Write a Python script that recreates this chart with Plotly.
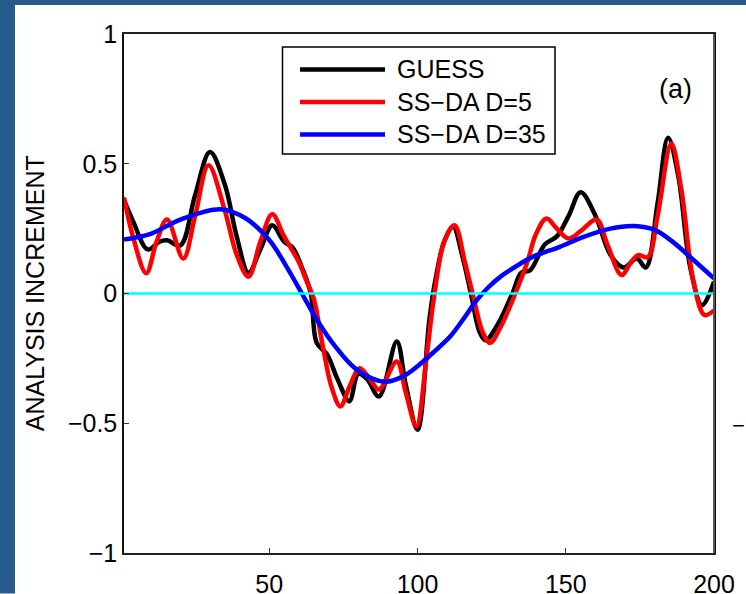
import plotly.graph_objects as go

# ---- data ----
guess_x = [1, 4, 9, 13, 15.5, 20, 25, 30, 35, 39, 43, 47, 51, 55, 58, 61, 64, 66, 69.5, 73, 77,
           80, 83, 87, 93, 96, 100, 104, 106, 109, 112, 115, 118, 121, 123, 127, 132, 135, 138,
           143, 147, 151, 155, 160, 165, 169.5, 174, 177, 181, 184.5, 188, 192, 196, 200]
guess_y = [0.36, 0.28, 0.17, 0.20, 0.205, 0.185, 0.38, 0.545, 0.42, 0.22, 0.08, 0.17, 0.263, 0.20,
           0.175, 0.10, 0.0, -0.19, -0.235, -0.33, -0.415, -0.31, -0.33, -0.397, -0.185, -0.35,
           -0.525, -0.10, 0.05, 0.20, 0.257, 0.15, 0.0, -0.15, -0.18, -0.12, 0.0, 0.08, 0.09,
           0.19, 0.22, 0.30, 0.39, 0.30, 0.15, 0.10, 0.135, 0.10, 0.35, 0.60, 0.45, 0.10, -0.045, 0.045]

d5_x = [1, 4, 8.5, 12, 15.5, 21, 25, 29.5, 35, 39, 43, 47, 51, 55, 60, 62.5, 65, 68, 71, 74, 77,
        80.5, 84, 87, 93, 96, 99.6, 103, 105.5, 109, 112.5, 116, 119, 122, 124.5, 128, 133, 137,
        140, 143.5, 147, 151, 155, 160.4, 164, 168.8, 172, 174.4, 177.7, 181, 185.6, 189, 193,
        196.8, 200]
d5_y = [0.37, 0.22, 0.078, 0.20, 0.285, 0.135, 0.30, 0.494, 0.32, 0.15, 0.065, 0.20, 0.305, 0.22,
        0.12, 0.05, -0.02, -0.20, -0.36, -0.435, -0.36, -0.288, -0.33, -0.37, -0.262, -0.38,
        -0.512, -0.25, -0.02, 0.20, 0.263, 0.12, -0.02, -0.15, -0.19, -0.13, 0.0, 0.12, 0.23,
        0.289, 0.25, 0.212, 0.24, 0.285, 0.19, 0.071, 0.12, 0.148, 0.14, 0.30, 0.578, 0.40, 0.05,
        -0.083, -0.065]

d35_x = [1, 10, 20, 33.6, 42, 50, 56, 61, 66, 72, 79.6, 89, 95, 100, 106, 111, 116, 120, 124,
         128, 133, 139, 148, 156, 165, 173, 180, 186, 193, 200]
d35_y = [0.208, 0.23, 0.285, 0.325, 0.29, 0.206, 0.10, 0.0, -0.10, -0.20, -0.294, -0.34, -0.32,
         -0.28, -0.22, -0.166, -0.09, -0.025, 0.025, 0.065, 0.103, 0.142, 0.18, 0.218, 0.25, 0.26,
         0.245, 0.20, 0.13, 0.058]

x_range = [1, 200]
zero_y = [0, 0]

x_ticks = [50, 100, 150, 200]
y_ticks = [-1, -0.5, 0, 0.5, 1]
y_ticktext = ["\u22121", "\u22120.5", "0", "0.5", "1"]

series_names = ["GUESS", "SS\u2212DA D=5", "SS\u2212DA D=35"]
series_colors = ["#000000", "#ff0000", "#0000ff"]

# ---- figure geometry ----
W, H = 746, 594
ML, MR, MT, MB = 124, 32, 34, 40.5
PW, PH = W - ML - MR, H - MT - MB
FONT = "Liberation Sans, Arial, Helvetica, sans-serif"


def px_x(p):
    return (p - ML) / PW


def px_y(p):
    return (H - MB - p) / PH


fig = go.Figure()
for xs, ys, name, col in zip([guess_x, d5_x, d35_x], [guess_y, d5_y, d35_y], series_names, series_colors):
    fig.add_trace(go.Scatter(x=xs, y=ys, mode="lines", name=name,
                             line=dict(color=col, width=4.5, shape="spline", smoothing=1.0),
                             showlegend=False))

fig.add_trace(go.Scatter(x=x_range, y=zero_y, mode="lines", line=dict(color="#00ffff", width=2.5),
                         showlegend=False, hoverinfo="skip"))

shapes = []
# blue frame strips
frame = "#275b8e"
shapes.append(dict(type="rect", xref="paper", yref="paper", x0=px_x(0), x1=px_x(15),
                   y0=px_y(H), y1=px_y(0), fillcolor=frame, line=dict(width=0), layer="below"))
shapes.append(dict(type="rect", xref="paper", yref="paper", x0=px_x(0), x1=px_x(W),
                   y0=px_y(5), y1=px_y(0), fillcolor=frame, line=dict(width=0), layer="below"))
# right axis line (grey)
shapes.append(dict(type="line", xref="paper", yref="paper", x0=1, x1=1, y0=0, y1=1,
                   line=dict(color="#555555", width=2)))

# manual legend
lx0, lx1, ly0, ly1 = 282.5, 555, 47, 154
shapes.append(dict(type="rect", xref="paper", yref="paper", x0=px_x(lx0), x1=px_x(lx1),
                   y0=px_y(ly1), y1=px_y(ly0), fillcolor="white", line=dict(color="black", width=1.5),
                   layer="above"))
annotations = []
for i, (name, col) in enumerate(zip(series_names, series_colors)):
    yy = 69.5 + i * 32.5
    shapes.append(dict(type="line", xref="paper", yref="paper", x0=px_x(300), x1=px_x(385),
                       y0=px_y(yy), y1=px_y(yy), line=dict(color=col, width=4.5), layer="above"))
    annotations.append(dict(xref="paper", yref="paper", x=px_x(395), y=px_y(yy), text=name,
                            showarrow=False, xanchor="left", yanchor="middle",
                            font=dict(family=FONT, size=25, color="black")))

annotations.append(dict(xref="paper", yref="paper", x=px_x(675), y=px_y(89), text="(a)",
                        showarrow=False, xanchor="center", yanchor="middle",
                        font=dict(family=FONT, size=27, color="black")))
annotations.append(dict(xref="paper", yref="paper", x=px_x(35), y=px_y(293.5), text="ANALYSIS INCREMENT",
                        showarrow=False, textangle=-90, xanchor="center", yanchor="middle",
                        font=dict(family=FONT, size=25, color="black")))
# partially visible tick label of the neighbouring panel (only its minus sign shows)
annotations.append(dict(xref="paper", yref="paper", x=px_x(738), y=px_y(426), text="\u2212",
                        showarrow=False, xanchor="center", yanchor="middle",
                        font=dict(family=FONT, size=22, color="black")))

fig.update_layout(
    width=W, height=H, autosize=False,
    margin=dict(l=ML, r=MR, t=MT, b=MB, pad=0, autoexpand=False),
    paper_bgcolor="white", plot_bgcolor="white",
    font=dict(family=FONT, size=25, color="black"),
    shapes=shapes, annotations=annotations,
    showlegend=False,
    xaxis=dict(range=x_range, tickvals=x_ticks, ticks="inside", ticklen=5, tickcolor="#333333",
               showline=True, linecolor="#222222", linewidth=1.5, mirror=True, showgrid=False,
               zeroline=False, tickfont=dict(family=FONT, size=25), ticklabelstandoff=8,
               automargin=False),
    yaxis=dict(range=[-1, 1], tickvals=y_ticks, ticktext=y_ticktext, ticks="inside", ticklen=5,
               tickcolor="#333333", showline=True, linecolor="#111111", linewidth=1.5, mirror=True,
               showgrid=False, zeroline=False, tickfont=dict(family=FONT, size=25),
               ticklabelstandoff=0, automargin=False),
)

fig.write_html(
    "out.html",
    config={"displayModeBar": False, "responsive": False},
    post_script="document.body.style.margin='0';",
)
